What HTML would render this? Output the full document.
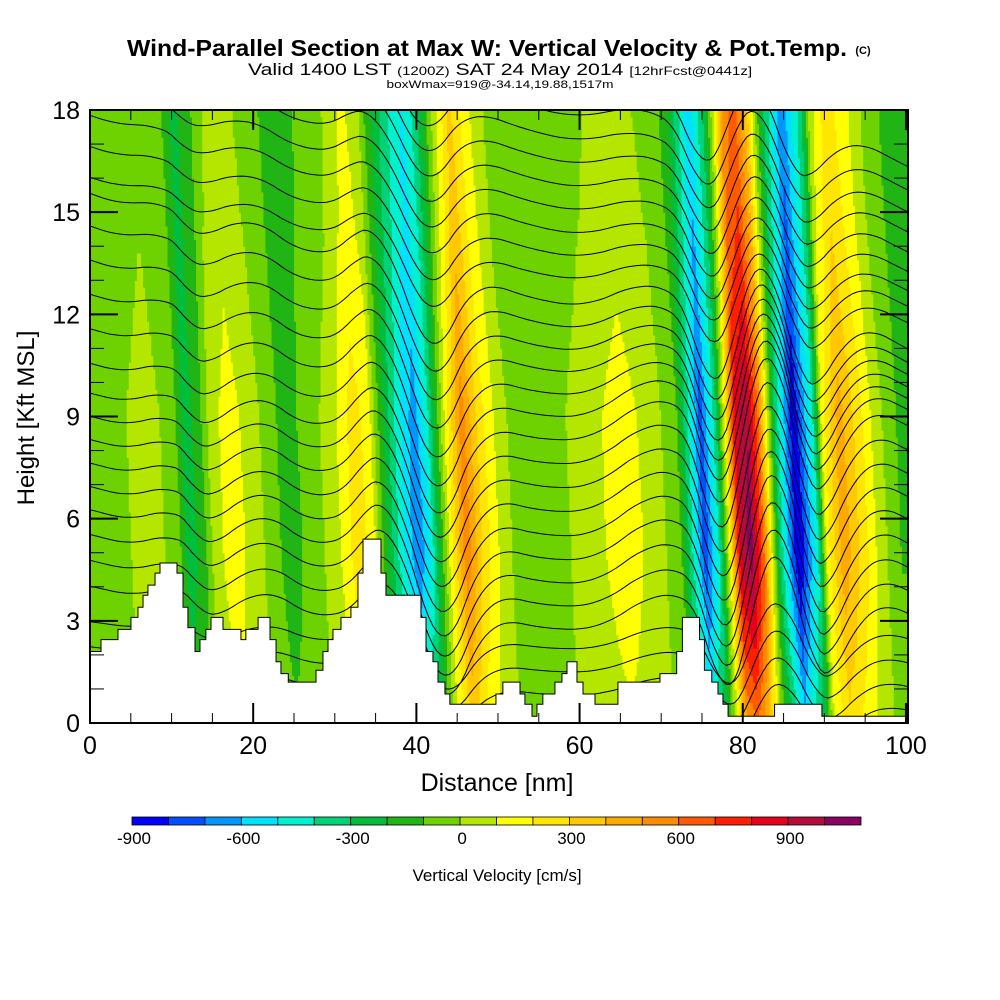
<!DOCTYPE html>
<html><head><meta charset="utf-8"><style>
html,body{margin:0;padding:0;background:#fff;}
svg{display:block;font-family:"Liberation Sans",sans-serif;}
</style></head><body>
<svg id="chart" width="1000" height="1000" viewBox="0 0 1000 1000">
<g>
<text x="487" y="56" text-anchor="middle" font-size="23" font-weight="bold" textLength="720" lengthAdjust="spacingAndGlyphs">Wind-Parallel Section at Max W: Vertical Velocity &amp; Pot.Temp.</text>
<text x="863" y="54" text-anchor="middle" font-size="11" font-weight="bold">(C)</text>
<text x="500" y="75" text-anchor="middle" font-size="17" textLength="504" lengthAdjust="spacingAndGlyphs">Valid 1400 LST <tspan font-size="12">(1200Z)</tspan> SAT 24 May 2014 <tspan font-size="12">[12hrFcst@0441z]</tspan></text>
<text x="500" y="88" text-anchor="middle" font-size="11" textLength="227" lengthAdjust="spacingAndGlyphs">boxWmax=919@-34.14,19.88,1517m</text>
</g>
<g id="field"></g>
<g id="contours"></g>
<g id="terrain"></g>
<g id="axes"></g>
<g id="cbar"></g>
</svg>
<script>
// ---- data ----
const profileX = [0,1.96,6.86,10.17,11.52,13.24,14.7,16.9,19.7,21.8,23.9,26.7,29.5,32.2,34.1,35.0,36.9,38.5,39.7,41.2,42.4,43.6,45.5,47.7,50.0,52.2,58.3,65.0,69.0,71.9,73.5,74.8,76.6,77.8,79.0,80.4,81.9,82.8,83.9,84.9,86.2,87.6,88.6,89.7,91.7,94.1,96.2,98.8,100.2];
const profileW = [-50,-50,50,-50,-250,-150,50,150,50,-50,-150,-50,50,250,150,-50,-350,-550,-650,-450,-150,150,550,250,50,-50,0,150,50,-100,-450,-750,-350,150,850,1000,600,150,-300,-550,-900,-600,-400,150,450,250,50,-100,-100];
const ampH = [0,2,5,9,12,15,18];
const ampF = [0.6,0.8,1.05,1.0,0.85,0.75,0.7];
const offW = [0,0,0,0,-25,-45,-55];
const terrX = [0,1.35,3.43,5.02,5.88,6.5,7.1,7.97,8.58,10.66,11.4,12.0,12.87,13.48,14.2,14.83,16.3,18.5,19.1,20.6,22.06,22.8,23.4,24.3,27.7,28.55,29.17,29.78,30.76,31.98,32.84,33.46,35.66,36.27,40.56,41.18,42.03,42.65,43.5,44.1,49.75,50.6,52.7,53.3,54.17,54.78,55.5,56.98,57.84,58.46,59.68,60.42,61.89,64.7,69.85,71.9,72.6,74.7,75.3,76.2,76.96,77.57,78.2,83.9,89.7];
const terrH = [2.1,2.45,2.75,3.1,3.4,3.75,4.05,4.4,4.7,4.4,3.4,2.8,2.1,2.45,2.75,3.1,2.75,2.45,2.75,3.1,2.45,1.8,1.45,1.2,1.55,2.1,2.45,2.75,3.1,3.4,4.4,5.4,4.4,3.75,3.1,2.1,1.8,1.2,0.85,0.55,0.85,1.2,0.85,0.55,0.2,0.55,0.85,1.2,1.45,1.8,1.2,0.85,0.55,1.2,1.45,2.1,3.1,2.45,1.55,1.2,0.85,0.55,0.2,0.55,0.2];
const xTicks = [0,20,40,60,80,100];
const yTicks = [0,3,6,9,12,15,18];
const cbarLevels = [-900,-800,-700,-600,-500,-400,-300,-200,-100,0,100,200,300,400,500,600,700,800,900,1000,1100];
const cbarLabels = [-900,-600,-300,0,300,600,900];
const cbarColors = ["#0000ff","#0050ff","#0096ff","#00e0ff","#00f0d0","#00d278","#00be3c","#20b414","#6ed200","#b4e600","#ffff00","#ffe600","#ffc800","#ffaa00","#ff8c00","#ff5a00","#ff1e00","#e6001e","#b40a3c","#8c0064"];
const thetaBase = [0.3,1.0,1.7,2.4,3.1,3.8,4.5,5.2,5.9,6.6,7.3,8.0,8.7,9.4,10.1,10.8,11.5,12.2,12.9,13.6,14.3,15.0,15.7,16.4,17.1,17.8,18.5,19.2];
// ---- scales ----
const X0=90,X1=908,XMAX=100.25,Y0=723,Y1=110;
const sx = v => X0 + v*(X1-X0)/XMAX;
const sy = v => Y0 - v*(Y0-Y1)/18;
const NS="http://www.w3.org/2000/svg";
function mk(t,a,p){const e=document.createElementNS(NS,t);for(const k in a)e.setAttribute(k,a[k]);p.appendChild(e);return e;}
function interp(xs,ys,x){if(x<=xs[0])return ys[0];for(let i=1;i<xs.length;i++){if(x<=xs[i]){const f=(x-xs[i-1])/(xs[i]-xs[i-1]);return ys[i-1]+f*(ys[i]-ys[i-1]);}}return ys[ys.length-1];}
const TILT=0.17;
function wAt(x,h){return interp(profileX,profileW,x+TILT*(h-9))*interp(ampH,ampF,h)+interp(ampH,offW,h);}
function colorOf(w){let k=Math.floor((w-cbarLevels[0])/100);k=Math.max(0,Math.min(cbarColors.length-1,k));return cbarColors[k];}
// ---- field ----
const field=document.getElementById('field');
const dx=0.25,dh=0.2;
for(let h=0;h<18-1e-6;h+=dh){
  let runStart=0,runCol=null;
  for(let x=0;x<=XMAX+dx;x+=dx){
    const c = x<XMAX ? colorOf(wAt(x+dx/2,h+dh/2)) : null;
    if(c!==runCol){
      if(runCol){const r=mk('rect',{x:sx(runStart),y:sy(Math.min(18,h+dh)),width:sx(Math.min(x,XMAX))-sx(runStart)+0.6,height:sy(h)-sy(Math.min(18,h+dh))+0.6,fill:runCol},field);
        
        }
      runStart=x;runCol=c;
    }
  }
}
// ---- theta contours ----
const cont=document.getElementById('contours');
const cx=[];for(let x=0;x<=XMAX+0.5;x+=0.5)cx.push(x);
thetaBase.forEach(b=>{
  let pts=[];let acc=0;
  const raw=cx.map((x,i)=>{if(i>0)acc+=wAt(x,b)*0.5;return acc;});
  const mean=raw.reduce((a,v)=>a+v,0)/raw.length;
  const k=b<3?0.0008:(b>13?0.001:0.0012);
  cx.forEach((x,i)=>{let h=b+k*(raw[i]-mean);pts.push(sx(x).toFixed(1)+','+sy(h).toFixed(1));});
  const p=mk('polyline',{points:pts.join(' '),fill:'none',stroke:'#000','stroke-width':1},cont);
  
  
});
const cp=mk('clipPath',{id:'plotclip'},document.getElementById('chart'));
mk('rect',{x:X0,y:Y1,width:X1-X0,height:Y0-Y1},cp);
cont.setAttribute('clip-path','url(#plotclip)');
// ---- terrain ----
const ter=document.getElementById('terrain');
let d='M'+sx(0)+','+sy(0);
for(let i=0;i<terrX.length;i++){const xe=i+1<terrX.length?terrX[i+1]:XMAX;d+=' L'+sx(terrX[i])+','+sy(terrH[i])+' L'+sx(xe)+','+sy(terrH[i]);}
d+=' L'+sx(XMAX)+','+sy(0)+' Z';
const tp=mk('path',{d:d,fill:'#fff',stroke:'#000','stroke-width':1},ter);


// ---- axes ----
const ax=document.getElementById('axes');
mk('rect',{x:X0,y:Y1,width:X1-X0,height:Y0-Y1,fill:'none',stroke:'#000','stroke-width':2},ax);
for(let v=0;v<=18;v++){const L=v%3===0?28:14;
  mk('line',{x1:X0,x2:X0+L,y1:sy(v),y2:sy(v),stroke:'#000','stroke-width':v%3===0?2:1},ax);
  mk('line',{x1:X1,x2:X1-L,y1:sy(v),y2:sy(v),stroke:'#000','stroke-width':v%3===0?2:1},ax);}
for(let v=0;v<=100;v+=5){const L=v%20===0?20:10;
  mk('line',{x1:sx(v),x2:sx(v),y1:Y0,y2:Y0-L,stroke:'#000','stroke-width':v%20===0?2:1},ax);
  mk('line',{x1:sx(v),x2:sx(v),y1:Y1,y2:Y1+L,stroke:'#000','stroke-width':v%20===0?2:1},ax);}
yTicks.forEach(v=>{const t=mk('text',{x:80,y:sy(v)+9,'text-anchor':'end','font-size':25},ax);t.textContent=v;
  
  });
xTicks.forEach(v=>{const t=mk('text',{x:sx(v),y:754,'text-anchor':'middle','font-size':25},ax);t.textContent=v;
  
  });
const xt=mk('text',{x:497,y:791,'text-anchor':'middle','font-size':25},ax);xt.textContent='Distance [nm]';


const yt=mk('text',{x:0,y:0,'text-anchor':'middle','font-size':24,transform:'translate(34,418) rotate(-90)'},ax);yt.textContent='Height [Kft MSL]';


// ---- colorbar ----
const cb=document.getElementById('cbar');
const cbx=v=>132+(v-cbarLevels[0])*0.3645;
cbarColors.forEach((c,i)=>{const r=mk('rect',{x:cbx(cbarLevels[i]),y:817,width:cbx(cbarLevels[i+1])-cbx(cbarLevels[i]),height:8,fill:c,stroke:'#000','stroke-width':0.8},cb);
  
  });
cbarLabels.forEach(v=>{const t=mk('text',{x:cbx(v)+2,y:844,'text-anchor':'middle','font-size':17},cb);t.textContent=v;
  
  });
const ct=mk('text',{x:497,y:881,'text-anchor':'middle','font-size':17},cb);ct.textContent='Vertical Velocity [cm/s]';


</script>
</body></html>
